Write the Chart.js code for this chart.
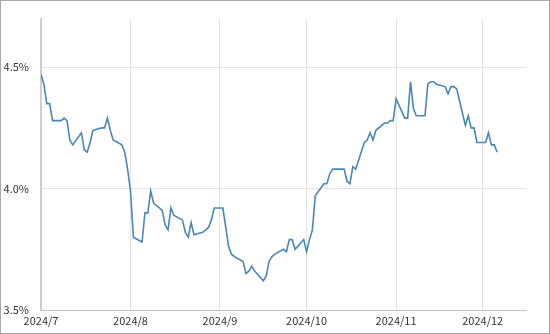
<!DOCTYPE html>
<html><head><meta charset="utf-8">
<script src="https://cdn.jsdelivr.net/npm/chart.js@4.4.1/dist/chart.umd.min.js"></script>
<style>html,body{margin:0;padding:0;background:#fff}#wrap{width:550px;height:334px;position:relative}</style>
</head><body><div id="wrap"><canvas id="c" width="550" height="334"></canvas></div>
<script>
const dates = [
 '2024-07-01','2024-07-02','2024-07-03','2024-07-04','2024-07-05','2024-07-08','2024-07-09','2024-07-10','2024-07-11','2024-07-12',
 '2024-07-15','2024-07-16','2024-07-17','2024-07-18','2024-07-19','2024-07-22','2024-07-23','2024-07-24','2024-07-25','2024-07-26',
 '2024-07-29','2024-07-30','2024-07-31','2024-08-01','2024-08-02','2024-08-05','2024-08-06','2024-08-07','2024-08-08','2024-08-09',
 '2024-08-12','2024-08-13','2024-08-14','2024-08-15','2024-08-16','2024-08-19','2024-08-20','2024-08-21','2024-08-22','2024-08-23',
 '2024-08-26','2024-08-27','2024-08-28','2024-08-29','2024-08-30','2024-09-02','2024-09-03','2024-09-04','2024-09-05','2024-09-06',
 '2024-09-09','2024-09-10','2024-09-11','2024-09-12','2024-09-13','2024-09-16','2024-09-17','2024-09-18','2024-09-19','2024-09-20',
 '2024-09-23','2024-09-24','2024-09-25','2024-09-26','2024-09-27','2024-09-30','2024-10-01','2024-10-02','2024-10-03','2024-10-04',
 '2024-10-07','2024-10-08','2024-10-09','2024-10-10','2024-10-11','2024-10-14','2024-10-15','2024-10-16','2024-10-17','2024-10-18',
 '2024-10-21','2024-10-22','2024-10-23','2024-10-24','2024-10-25','2024-10-28','2024-10-29','2024-10-30','2024-10-31','2024-11-01',
 '2024-11-04','2024-11-05','2024-11-06','2024-11-07','2024-11-08','2024-11-11','2024-11-12','2024-11-13','2024-11-14','2024-11-15',
 '2024-11-18','2024-11-19','2024-11-20','2024-11-21','2024-11-22','2024-11-25','2024-11-26','2024-11-27','2024-11-28','2024-11-29',
 '2024-12-02','2024-12-03','2024-12-04','2024-12-05','2024-12-06'
];
const yields = [
 4.47,4.43,4.35,4.35,4.28,4.28,4.29,4.28,4.20,4.18,
 4.23,4.16,4.15,4.19,4.24,4.25,4.25,4.29,4.24,4.20,
 4.18,4.15,4.08,3.99,3.80,3.78,3.90,3.90,3.99,3.94,
 3.91,3.85,3.83,3.92,3.89,3.87,3.82,3.80,3.86,3.81,
 3.82,3.83,3.84,3.87,3.92,3.92,3.84,3.76,3.73,3.72,
 3.70,3.65,3.66,3.68,3.66,3.62,3.64,3.70,3.72,3.73,
 3.75,3.74,3.79,3.79,3.75,3.79,3.74,3.79,3.83,3.97,
 4.02,4.02,4.06,4.08,4.08,4.08,4.03,4.02,4.09,4.08,
 4.19,4.20,4.23,4.20,4.24,4.27,4.27,4.28,4.28,4.37,
 4.29,4.29,4.44,4.33,4.30,4.30,4.43,4.44,4.44,4.43,
 4.42,4.39,4.42,4.42,4.41,4.26,4.30,4.25,4.25,4.19,
 4.19,4.23,4.18,4.18,4.15
];
const monthTicks = ['2024-07-01','2024-08-01','2024-09-01','2024-10-01','2024-11-01','2024-12-01'];
const monthLabels = ['2024/7','2024/8','2024/9','2024/10','2024/11','2024/12'];
const yTicks = [3.5, 4.0, 4.5];
const xStart = '2024-07-01';
const xEnd = '2024-12-16';
const yMin = 3.5, yMax = 4.7;

function dayNum(s){
  const [y,m,d] = s.split('-').map(Number);
  const [y0,m0,d0] = xStart.split('-').map(Number);
  return (Date.UTC(y,m-1,d) - Date.UTC(y0,m0-1,d0)) / 86400000;
}
const tickDays = monthTicks.map(dayNum);
const labelByDay = {};
tickDays.forEach((d,i)=>labelByDay[d]=monthLabels[i]);
const points = dates.map((d,i)=>({x:dayNum(d), y:yields[i]}));

const frame = {
  id:'frame',
  afterDraw(chart){
    const ctx = chart.ctx;
    ctx.save();
    ctx.strokeStyle = '#a8a8a8';
    ctx.lineWidth = 1;
    ctx.strokeRect(0.5,0.5,chart.width-1,chart.height-1);
    ctx.restore();
  }
};

const font = {family:'"Noto Sans CJK JP","Noto Sans",sans-serif', size:11};

new Chart(document.getElementById('c'), {
  type:'line',
  data:{datasets:[{
    data:points,
    borderColor:'#4a87b8',
    borderWidth:1.6,
    pointRadius:0,
    tension:0,
    fill:false
  }]},
  options:{
    responsive:false,
    animation:false,
    devicePixelRatio:1,
    layout:{padding:{top:18,right:24,left:0,bottom:0}},
    plugins:{legend:{display:false},tooltip:{enabled:false}},
    scales:{
      x:{
        type:'linear',
        min:0,
        max:dayNum(xEnd),
        afterBuildTicks(scale){ scale.ticks = tickDays.map(v=>({value:v})); },
        afterFit(scale){ scale.height = 24; },
        ticks:{
          autoSkip:false, maxRotation:0, padding:4,
          color:'#333', font:font,
          callback:(v)=>labelByDay[v] ?? ''
        },
        grid:{color:'#e4e4e4', lineWidth:1, drawTicks:false},
        border:{color:'#c4c4c4', width:1}
      },
      y:{
        type:'linear',
        min:yMin, max:yMax,
        afterBuildTicks(scale){ scale.ticks = yTicks.map(v=>({value:v})); },
        afterFit(scale){ scale.width = 41; },
        ticks:{
          padding:12, color:'#333', font:font,
          callback:(v)=>v.toFixed(1)+'%'
        },
        grid:{color:'#e4e4e4', lineWidth:1, drawTicks:false},
        border:{color:'#cfcfcf', width:2}
      }
    }
  },
  plugins:[frame]
});
</script>
</body></html>
